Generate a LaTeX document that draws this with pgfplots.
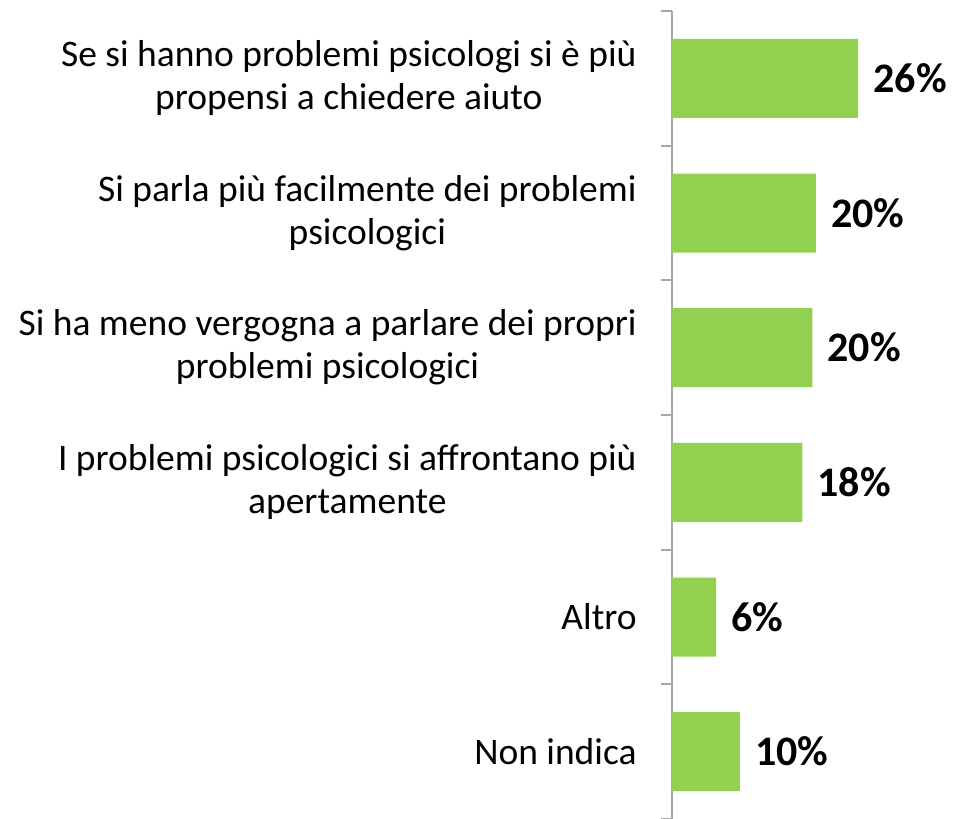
\documentclass[border=0pt]{standalone}
\usepackage{pgfplots}
\pgfplotsset{compat=1.18}
\usepackage{fontspec}
\setmainfont{Carlito}
\definecolor{barGreen}{HTML}{92D050}
\definecolor{axGray}{HTML}{A6A6A6}
\begin{document}
\begin{tikzpicture}
% 1 px of the reference = 0.5pt
\useasboundingbox (-336pt,0pt) rectangle (140.5pt,409.5pt);
\begin{axis}[
  at={(0pt,0pt)}, anchor=south west,
  scale only axis, width=136pt, height=404pt,
  xbar, bar width=39.5pt, bar shift=0pt,
  xmin=0, xmax=38, ymin=-0.5, ymax=5.5, y dir=reverse,
  axis x line=none, axis y line=left,
  axis line style={-, axGray, line width=1pt},
  ytick={0,...,5},
  yticklabels={
    {Se si hanno problemi psicologi si è più\\propensi a chiedere aiuto},
    {Si parla più facilmente dei problemi\\psicologici},
    {Si ha meno vergogna a parlare dei propri\\problemi psicologici},
    {I problemi psicologici si affrontano più\\apertamente},
    {Altro},
    {Non indica}},
  major tick length=0pt,
  minor ytick={-0.5,0.5,...,5.5},
  minor tick length=5.5pt,
  tick align=outside,
  minor tick style={axGray, line width=1pt},
  yticklabel style={align=center, anchor=east, inner sep=0pt, xshift=-17.5pt,
    font=\fontsize{18.75pt}{21.5pt}\selectfont},
  point meta=explicit symbolic,
  nodes near coords={\pgfplotspointmeta\%},
  nodes near coords style={anchor=west, inner sep=0pt, xshift=7.5pt,
    font=\fontsize{21pt}{23pt}\selectfont\bfseries, black},
  clip=false,
]
\addplot[fill=barGreen, draw=none] coordinates {
  (26,0) [26]
  (20.1,1) [20]
  (19.6,2) [20]
  (18.2,3) [18]
  (6.15,4) [6]
  (9.5,5) [10]
};
\end{axis}
\end{tikzpicture}
\end{document}
